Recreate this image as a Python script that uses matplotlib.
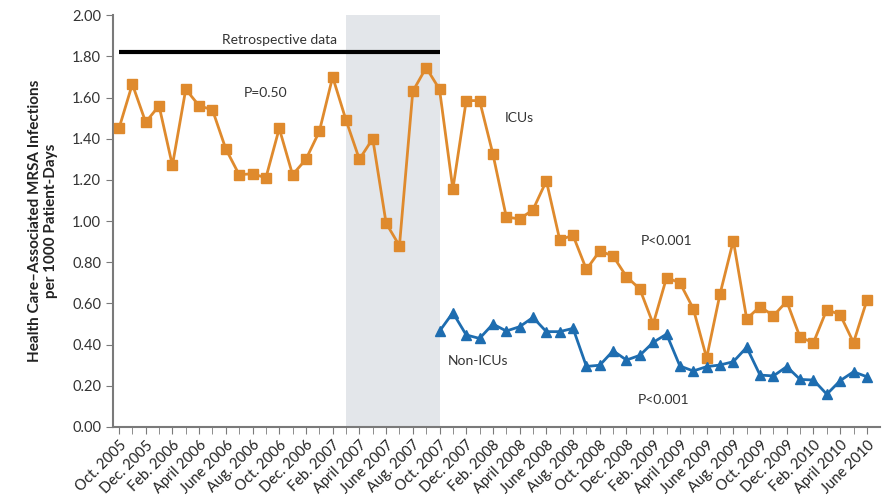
import matplotlib
matplotlib.use("Agg")
import matplotlib.pyplot as plt

plt.rcParams['font.family'] = ['Lato', 'DejaVu Sans']

# monthly rates, Oct. 2005 .. June 2010
icu = [1.45, 1.665, 1.48, 1.56, 1.27, 1.64, 1.56, 1.54, 1.35, 1.225,
       1.23, 1.21, 1.45, 1.225, 1.30, 1.435, 1.70, 1.49, 1.30, 1.40,
       0.99, 0.88, 1.63, 1.745, 1.64, 1.155, 1.585, 1.585, 1.325, 1.02,
       1.01, 1.055, 1.195, 0.91, 0.93, 0.765, 0.855, 0.83, 0.73, 0.67,
       0.50, 0.725, 0.70, 0.575, 0.335, 0.645, 0.905, 0.525, 0.585, 0.54,
       0.61, 0.435, 0.41, 0.57, 0.545, 0.41, 0.615]
# non-ICU rates, Oct. 2007 .. June 2010
non_icu = [0.465, 0.555, 0.447, 0.43, 0.50, 0.466, 0.487, 0.532, 0.463, 0.463,
           0.479, 0.294, 0.300, 0.370, 0.325, 0.348, 0.411, 0.451, 0.296, 0.272,
           0.293, 0.301, 0.317, 0.387, 0.252, 0.248, 0.293, 0.231, 0.228, 0.159,
           0.225, 0.268, 0.244]
non_icu_start = 24

month_names = ["Oct.", "Dec.", "Feb.", "April", "June", "Aug."]
tick_labels = []
year = 2005
for i in range(0, 57, 2):
    name = month_names[(i // 2) % 6]
    if name == "Feb.":
        year += 1
    tick_labels.append(f"{name} {year}")

retro_end = 24
shade_span = (17, 24)

orange = "#DF8A2D"
blue = "#1E6DB0"
gray = "#7A7A7A"

fig = plt.figure(figsize=(8.86, 4.98), dpi=100)
ax = fig.add_axes([0.1275, 0.1426, 0.866, 0.827])

ax.axvspan(shade_span[0], shade_span[1], color="#E3E6EA", zorder=0, lw=0)
ax.plot([0, retro_end], [1.82, 1.82], color="black", lw=3, solid_capstyle="butt", zorder=3)

x_icu = list(range(len(icu)))
x_non = list(range(non_icu_start, non_icu_start + len(non_icu)))
ax.plot(x_icu, icu, color=orange, lw=2, marker="s", ms=7, zorder=4)
ax.plot(x_non, non_icu, color=blue, lw=2, marker="^", ms=7, zorder=4)

txt = dict(color="#333333", fontsize=10)
ax.text(12, 1.88, "Retrospective data", ha="center", va="center", **txt)
ax.text(11, 1.62, "P=0.50", ha="center", va="center", **txt)
ax.text(30, 1.50, "ICUs", ha="center", va="center", **txt)
ax.text(41, 0.905, "P<0.001", ha="center", va="center", **txt)
ax.text(26.9, 0.32, "Non-ICUs", ha="center", va="center", **txt)
ax.text(40.8, 0.13, "P<0.001", ha="center", va="center", **txt)

ax.set_xlim(-0.45, 57)
ax.set_ylim(0, 2.0)
ax.set_yticks([i * 0.2 for i in range(11)])
ax.set_yticklabels([f"{i * 0.2:.2f}" for i in range(11)], fontsize=10.5, color="#333333")
ax.set_xticks(range(57), minor=True)
ax.set_xticks(range(0, 57, 2))
ax.set_xticklabels(tick_labels, rotation=45, ha="right", rotation_mode="anchor",
                   fontsize=10.5, color="#222222")
ax.tick_params(axis="x", which="both", direction="out", length=5, color=gray, pad=3)
ax.tick_params(axis="y", direction="out", length=5, color=gray)

for s in ["top", "right"]:
    ax.spines[s].set_visible(False)
for s in ["left", "bottom"]:
    ax.spines[s].set_color(gray)
    ax.spines[s].set_linewidth(1.5)

ax.set_ylabel("Health Care\u2013Associated MRSA Infections\nper 1000 Patient-Days",
              fontsize=11, fontweight="bold", color="#222222", labelpad=10)

fig.savefig("out.png", dpi=100)
